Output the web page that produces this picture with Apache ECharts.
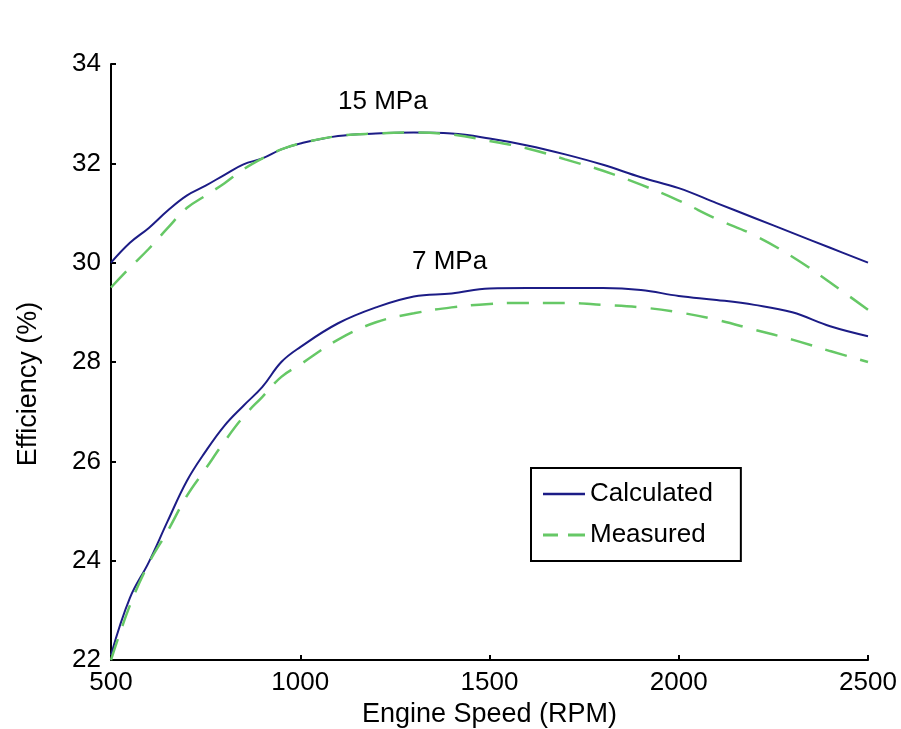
<!DOCTYPE html>
<html>
<head>
<meta charset="utf-8">
<script src="https://cdn.jsdelivr.net/npm/echarts@6/dist/echarts.min.js"></script>
<style>html,body{margin:0;padding:0;background:#fff}#c{width:901px;height:729px}</style>
</head>
<body>
<div id="c"></div>
<script>
const rpm = [500,550,600,650,700,750,800,850,900,950,1000,1100,1200,1300,1400,1500,1600,1700,1800,1900,2000,2100,2200,2300,2400,2500];
const calc15 = [30.0,30.4,30.7,31.05,31.35,31.55,31.77,31.98,32.1,32.28,32.4,32.55,32.6,32.62,32.6,32.5,32.36,32.18,31.97,31.72,31.5,31.2,30.9,30.6,30.3,30.0];
const meas15 = [29.5,29.9,30.28,30.7,31.1,31.35,31.6,31.88,32.1,32.28,32.4,32.55,32.6,32.62,32.58,32.45,32.3,32.08,31.85,31.57,31.25,30.88,30.55,30.12,29.6,29.05];
const calc7 = [22.1,23.25,23.97,24.8,25.6,26.2,26.72,27.12,27.5,28.0,28.3,28.78,29.1,29.32,29.38,29.48,29.49,29.49,29.49,29.45,29.33,29.25,29.15,29.0,28.72,28.52];
const meas7 = [22.0,23.1,23.95,24.6,25.3,25.85,26.4,26.9,27.3,27.7,27.95,28.45,28.8,28.98,29.1,29.17,29.19,29.19,29.15,29.1,29.0,28.85,28.65,28.45,28.22,28.0];
const xTicks = [500,1000,1500,2000,2500];
const yTicks = [22,24,26,28,30,32,34];
const seriesNames = ['Calculated','Measured'];
const curveLabels = ['15 MPa','7 MPa'];

const pair = arr => rpm.map((x,i)=>[x,arr[i]]);
const FONT = 'Liberation Sans';
const calcColor = '#1c1c86';
const measColor = '#66c866';

const chart = echarts.init(document.getElementById('c'));
chart.setOption({
  animation:false,
  backgroundColor:'#fff',
  grid:{left:111,top:64,right:33,bottom:69,containLabel:false,outerBoundsMode:'none'},
  xAxis:{type:'value',min:xTicks[0],max:xTicks[xTicks.length-1],interval:500,
    name:'Engine Speed (RPM)',nameLocation:'middle',nameGap:41,
    nameTextStyle:{fontFamily:FONT,fontSize:27,color:'#000'},
    axisLine:{show:true,lineStyle:{color:'#000',width:2}},
    axisTick:{show:true,inside:true,length:5,lineStyle:{color:'#000',width:2}},
    axisLabel:{fontFamily:FONT,fontSize:26,color:'#000',margin:10,formatter:v=>String(v)},
    splitLine:{show:false}},
  yAxis:{type:'value',min:yTicks[0],max:yTicks[yTicks.length-1],interval:2,
    name:'Efficiency (%)',nameLocation:'middle',nameGap:69,
    nameTextStyle:{fontFamily:FONT,fontSize:27,color:'#000',padding:[0,0,0,-44]},
    axisLine:{show:true,lineStyle:{color:'#000',width:2}},
    axisTick:{show:true,inside:true,length:5,lineStyle:{color:'#000',width:2}},
    axisLabel:{fontFamily:FONT,fontSize:26,color:'#000',margin:10},
    splitLine:{show:false}},
  legend:{show:true,orient:'vertical',left:531,top:468,
    data:[
      {name:seriesNames[0],icon:'path://M0,6 L42,6 L42,8.5 L0,8.5 Z'},
      {name:seriesNames[1],icon:'path://M0,6 L15,6 L15,9 L0,9 Z M25,6 L42,6 L42,9 L25,9 Z'}
    ],
    itemWidth:42,itemHeight:14,itemGap:15,
    padding:[13,28,13,12],
    borderColor:'#000',borderWidth:2,backgroundColor:'#fff',
    textStyle:{fontFamily:FONT,fontSize:26,color:'#000'}},
  graphic:[
    {type:'text',left:338,top:89,style:{text:curveLabels[0],font:'26px "Liberation Sans"',fill:'#000'}},
    {type:'text',left:412,top:249,style:{text:curveLabels[1],font:'26px "Liberation Sans"',fill:'#000'}}
  ],
  series:[
    {name:seriesNames[0],type:'line',data:pair(calc15),smooth:0.4,showSymbol:false,lineStyle:{color:calcColor,width:2},itemStyle:{color:calcColor}},
    {name:seriesNames[1],type:'line',data:pair(meas15),smooth:0.4,showSymbol:false,lineStyle:{color:measColor,width:2.5,type:[22,14]},itemStyle:{color:measColor}},
    {name:seriesNames[0],type:'line',data:pair(calc7),smooth:0.4,showSymbol:false,lineStyle:{color:calcColor,width:2},itemStyle:{color:calcColor}},
    {name:seriesNames[1],type:'line',data:pair(meas7),smooth:0.4,showSymbol:false,lineStyle:{color:measColor,width:2.5,type:[22,14]},itemStyle:{color:measColor}}
  ]
});
</script>
</body>
</html>
